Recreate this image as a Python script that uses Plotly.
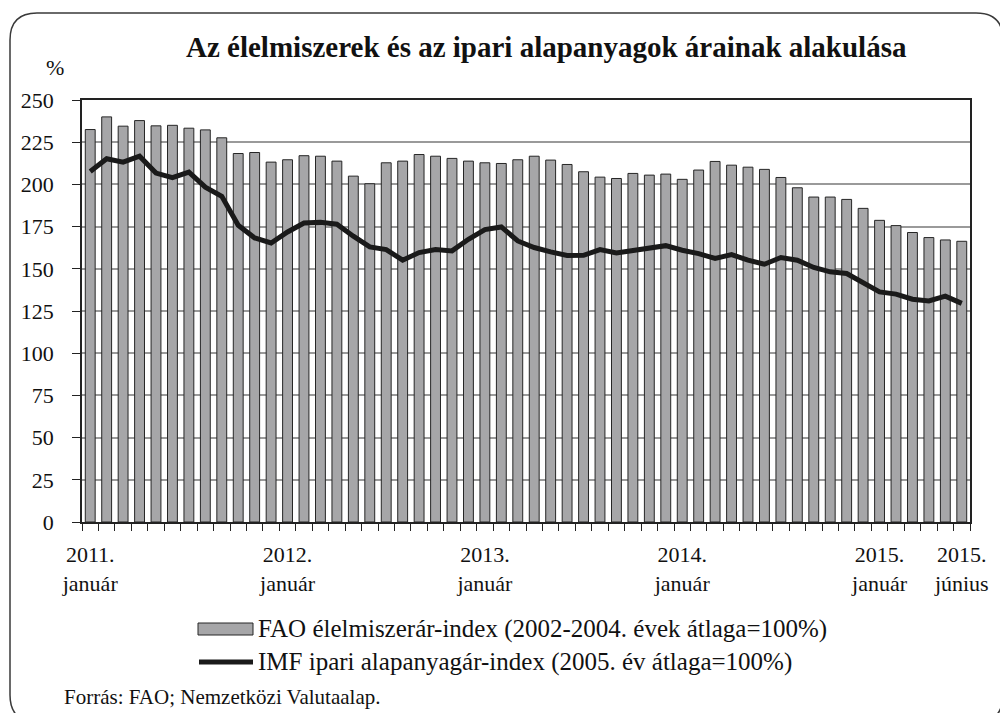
import plotly.graph_objects as go
import pandas as pd

# ---------------- data ----------------
months = list(pd.date_range("2011-01-01", periods=54, freq="MS").strftime("%Y-%m"))

fao_index = [232.5, 240, 234.5, 237.8, 234.7, 235, 233.3, 232.3, 227.6, 218.3,
             218.9, 213.2, 214.6, 217, 216.7, 213.8, 204.9, 200.4,
             212.8, 213.8, 217.7, 216.7, 215.4, 213.8, 212.8, 212.4, 214.6, 216.7,
             214.4, 211.8, 207.5, 204.3, 203.5, 206.5, 205.5, 206.1,
             203, 208.5, 213.6, 211.4, 210.2, 208.9, 204.1, 198, 192.5, 192.5,
             191.1, 185.8, 178.7, 175.6, 171.5, 168.5, 167.1, 166.3]

imf_index = [207.7, 215.2, 213.2, 216.7, 206.7, 204, 207.3, 198.4, 192.9, 175.8,
             168.3, 165.3, 171.8, 177.1, 177.5, 176.4, 169.3, 163,
             161.4, 155.1, 159.6, 161.4, 160.6, 167.5, 173.2, 174.8, 166.5, 162.6,
             160, 157.9, 158, 161.4, 159.4, 161, 162, 163.7, 161,
             159, 156.1, 158.4, 155.1, 152.7, 156.7, 155.1, 150.8, 148.2, 147.2,
             141.7, 136.3, 135, 132, 131, 133.8, 129.5]

tick_months = ["2011-01", "2012-01", "2013-01", "2014-01", "2015-01", "2015-06"]
tick_labels = ["2011.<br>január", "2012.<br>január", "2013.<br>január",
               "2014.<br>január", "2015.<br>január", "2015.<br>június"]

y_ticks = list(range(0, 251, 25))

title_text = "Az élelmiszerek és az ipari alapanyagok árainak alakulása"
fao_name = "FAO élelmiszerár-index (2002-2004. évek átlaga=100%)"
imf_name = "IMF ipari alapanyagár-index (2005. év átlaga=100%)"
source_text = "Forrás: FAO; Nemzetközi Valutaalap."

# ---------------- layout geometry ----------------
W, H = 1000, 713
L, R, T, B = 82, 30, 100, 191
PW, PH = W - L - R, H - T - B

def px(x):
    return (x - L) / PW

def py(y):
    return (H - B - y) / PH

FONT = "Liberation Serif, Times New Roman, serif"
TXT = "#111111"
BAR_FILL = "#a6a6a8"
BAR_LINE = "#262626"
LINE_COL = "#1a1a1a"

x = [months.index(m) for m in months]

fig = go.Figure()
fig.add_trace(go.Bar(
    x=x, y=fao_index, name=fao_name,
    marker=dict(color=BAR_FILL, line=dict(color=BAR_LINE, width=1)),
    showlegend=False,
))
fig.add_trace(go.Scatter(
    x=x, y=imf_index, name=imf_name, mode="lines",
    line=dict(color=LINE_COL, width=5),
    showlegend=False,
))

fig.update_layout(
    width=W, height=H,
    margin=dict(l=L, r=R, t=T, b=B, pad=0, autoexpand=False),
    paper_bgcolor="white", plot_bgcolor="white",
    bargap=0.4,
    font=dict(family=FONT, size=22, color=TXT),
    xaxis=dict(
        range=[-0.5, len(months) - 0.5],
        tickmode="array",
        tickvals=[months.index(m) for m in tick_months],
        ticktext=tick_labels,
        ticks="",
        showgrid=False,
        zeroline=False,
        automargin=False,
        showline=True, linecolor="#222222", linewidth=1.5, mirror=True,
        tickfont=dict(family=FONT, size=22, color=TXT),
        ticklabelstandoff=12,
        minor=dict(tickmode="linear", tick0=-0.5, dtick=1, ticks="outside",
                   ticklen=7, tickcolor="#222222", tickwidth=1.2, showgrid=False),
        fixedrange=True,
    ),
    yaxis=dict(
        range=[0, 250],
        tickmode="array", tickvals=y_ticks,
        ticks="outside", ticklen=8, tickcolor="#222222", tickwidth=1.2,
        showgrid=True, gridcolor="#9a9a9a", gridwidth=2,
        zeroline=False,
        automargin=False,
        showline=True, linecolor="#222222", linewidth=1.5, mirror=True,
        tickfont=dict(family=FONT, size=22, color=TXT),
        ticklabelstandoff=14,
        fixedrange=True,
    ),
)

# ---------------- frame (rounded) ----------------
x0, y0, x1, y1, r = 10, 13, 1003, 722, 27
def P(a, b):
    return f"{px(a):.5f},{py(b):.5f}"
frame_path = (
    f"M {P(x0 + r, y0)} L {P(x1 - r, y0)} Q {P(x1, y0)} {P(x1, y0 + r)} "
    f"L {P(x1, y1 - r)} Q {P(x1, y1)} {P(x1 - r, y1)} "
    f"L {P(x0 + r, y1)} Q {P(x0, y1)} {P(x0, y1 - r)} "
    f"L {P(x0, y0 + r)} Q {P(x0, y0)} {P(x0 + r, y0)} Z"
)
shapes = [dict(type="path", xref="paper", yref="paper", path=frame_path,
               line=dict(color="#3a3a3a", width=1.5), layer="below")]

# ---------------- manual legend ----------------
shapes.append(dict(type="rect", xref="paper", yref="paper",
                   x0=px(198), x1=px(253), y0=py(635), y1=py(623),
                   fillcolor=BAR_FILL, line=dict(color=BAR_LINE, width=1)))
shapes.append(dict(type="line", xref="paper", yref="paper",
                   x0=px(199), x1=px(253), y0=py(662), y1=py(662),
                   line=dict(color=LINE_COL, width=5)))

annotations = [
    dict(text=f"<b>{title_text}</b>", xref="paper", yref="paper",
         x=px(546), y=py(47), xanchor="center", yanchor="middle", showarrow=False,
         font=dict(family=FONT, size=29, color=TXT)),
    dict(text="%", xref="paper", yref="paper", x=px(55), y=py(67),
         xanchor="center", yanchor="middle", showarrow=False,
         font=dict(family=FONT, size=22, color=TXT)),
    dict(text=fao_name, xref="paper", yref="paper", x=px(256), y=py(629),
         xanchor="left", yanchor="middle", showarrow=False,
         font=dict(family=FONT, size=25, color=TXT)),
    dict(text=imf_name, xref="paper", yref="paper", x=px(256), y=py(662),
         xanchor="left", yanchor="middle", showarrow=False,
         font=dict(family=FONT, size=25, color=TXT)),
    dict(text=source_text, xref="paper", yref="paper", x=px(62), y=py(697),
         xanchor="left", yanchor="middle", showarrow=False,
         font=dict(family=FONT, size=21, color=TXT)),
]

fig.update_layout(shapes=shapes, annotations=annotations)
fig.write_html("out.html",
               config={"displayModeBar": False},
               post_script="document.body.style.margin='0';document.body.style.padding='0';")
